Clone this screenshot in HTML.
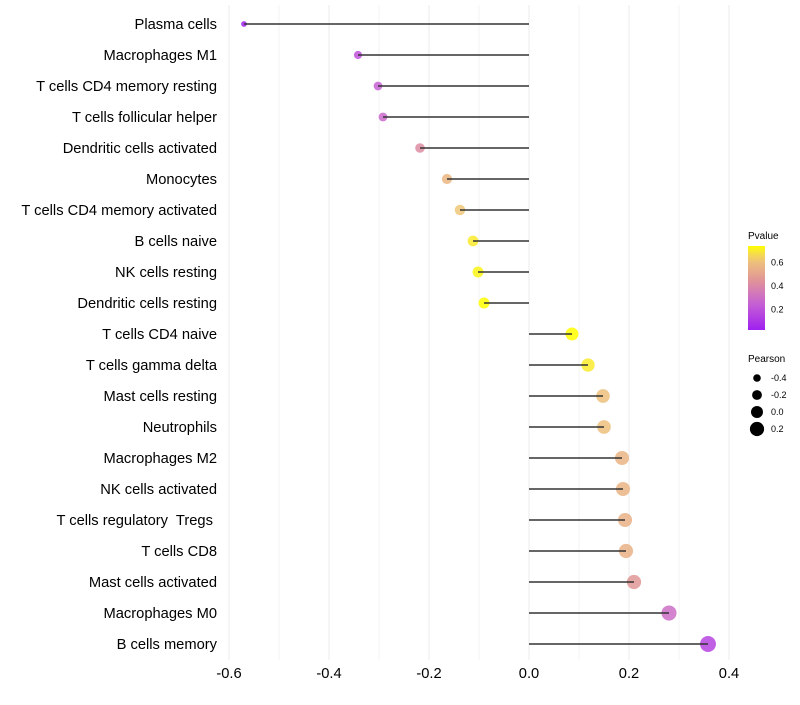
<!DOCTYPE html>
<html><head><meta charset="utf-8"><style>
body{margin:0;background:#fff;font-family:"Liberation Sans",sans-serif}
text{white-space:pre}
</style></head><body>
<svg id="c" width="800" height="700" font-family="Liberation Sans, sans-serif"></svg>
<script>
const categories=["Plasma cells","Macrophages M1","T cells CD4 memory resting","T cells follicular helper","Dendritic cells activated","Monocytes","T cells CD4 memory activated","B cells naive","NK cells resting","Dendritic cells resting","T cells CD4 naive","T cells gamma delta","Mast cells resting","Neutrophils","Macrophages M2","NK cells activated","T cells regulatory  Tregs ","T cells CD8","Mast cells activated","Macrophages M0","B cells memory"];
const pearson=[-0.57,-0.342,-0.302,-0.292,-0.218,-0.164,-0.138,-0.112,-0.102,-0.09,0.086,0.118,0.148,0.15,0.186,0.188,0.192,0.194,0.21,0.28,0.358];
const pvalue=[0.02,0.2,0.25,0.28,0.42,0.57,0.63,0.7,0.72,0.74,0.74,0.7,0.6,0.6,0.56,0.56,0.55,0.55,0.46,0.3,0.15];
const xTicks=[-0.6,-0.4,-0.2,0.0,0.2,0.4];
const pLegend=[0.6,0.4,0.2];
const sLegend=[-0.4,-0.2,0.0,0.2];
const svg=document.getElementById('c');const NS='http://www.w3.org/2000/svg';
function mk(t,a,p){const e=document.createElementNS(NS,t);for(const k in a)e.setAttribute(k,a[k]);(p||svg).appendChild(e);return e;}
const x=v=>529+v*500;const y=i=>24+i*31;
const stops=[[0,160,32,240],[0.33,200,100,210],[0.6,225,150,150],[0.85,240,200,120],[1,255,255,0]];
const col=p=>{const t=Math.max(0,Math.min(1,(p-0.026)/(0.74-0.026)));
for(let k=1;k<stops.length;k++){if(t<=stops[k][0]){const a=stops[k-1],b=stops[k],f=(t-a[0])/(b[0]-a[0]);
return `rgb(${Math.round(a[1]+(b[1]-a[1])*f)},${Math.round(a[2]+(b[2]-a[2])*f)},${Math.round(a[3]+(b[3]-a[3])*f)})`;}}return 'rgb(255,255,0)';};
const rad=v=>6+5.5*v;
for(let v=-0.6;v<=0.45;v+=0.1){const g=mk('line',{x1:x(v),x2:x(v),y1:5,y2:660,stroke:'#ebebeb','stroke-width':Math.abs(Math.round(v*10))%2==0?1:0.6});
}
categories.forEach((c,i)=>{
const t=mk('text',{x:217,y:y(i)+5,'text-anchor':'end','font-size':14.7,fill:'#000'});t.textContent=c;

const d=mk('circle',{cx:x(pearson[i]),cy:y(i),r:rad(pearson[i]),fill:col(pvalue[i]),'fill-opacity':0.85});

const l=mk('line',{x1:x(0),x2:x(pearson[i]),y1:y(i),y2:y(i),stroke:'#333','stroke-width':1.4});

});
xTicks.forEach(v=>{const t=mk('text',{x:x(v),y:678,'text-anchor':'middle','font-size':14.7});t.textContent=v.toFixed(1);
});
const defs=mk('defs',{});const lg=mk('linearGradient',{id:'g',x1:0,y1:1,x2:0,y2:0},defs);
for(let k=0;k<=10;k++){mk('stop',{offset:k/10,'stop-color':col(0.026+k/10*(0.74-0.026))},lg);}
let t=mk('text',{x:748,y:239,'font-size':10});t.textContent='Pvalue';
const gb=mk('rect',{x:748,y:246,width:17,height:84,fill:'url(#g)'});
pLegend.forEach(p=>{const yy=330-(p-0.026)/(0.74-0.026)*84;
const tl=mk('text',{x:771,y:yy+3,'font-size':9});tl.textContent=p.toFixed(1);});
t=mk('text',{x:748,y:362,'font-size':10});t.textContent='Pearson';
sLegend.forEach((v,i)=>{const yy=378+i*17;
const c=mk('circle',{cx:757,cy:yy,r:rad(v),fill:'#000'});
const tl=mk('text',{x:771,y:yy+3,'font-size':9});tl.textContent=v.toFixed(1);});
</script>
</body></html>
